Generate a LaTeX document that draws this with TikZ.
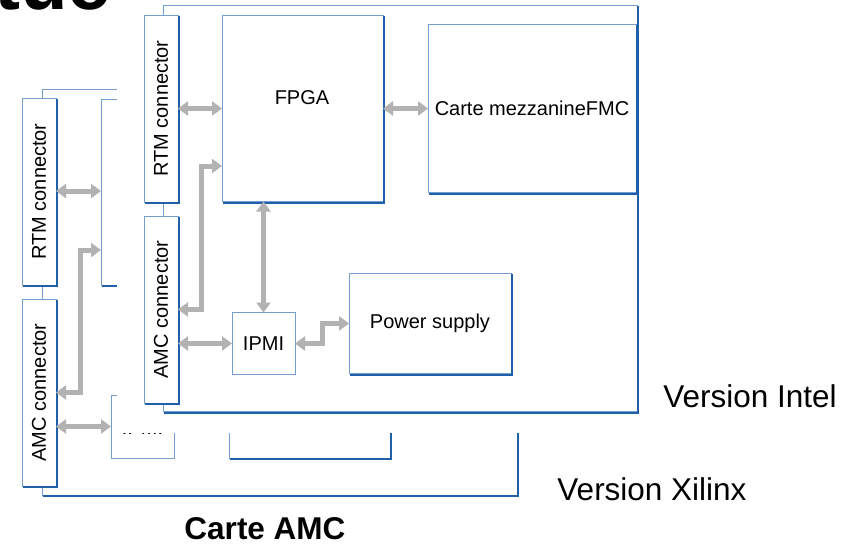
\documentclass[tikz,border=0pt]{standalone}
\usepackage{fontspec}
\setmainfont{Liberation Sans}
\usetikzlibrary{arrows.meta}
\definecolor{lightb}{RGB}{114,159,207}
\definecolor{darkb}{RGB}{32,96,170}
\definecolor{arrg}{RGB}{178,178,178}
\tikzset{
 bx/.style={draw=lightb, line width=1pt, fill=white, inner sep=0pt, outer sep=0pt, anchor=north west, font=\fontsize{20}{24}\selectfont},
 dk/.style={draw=darkb, line width=2pt, line cap=rect, line join=miter},
 lbl/.style={font=\fontsize{20}{24}\selectfont, inner sep=0pt},
 big/.style={font=\fontsize{31.5}{36}\selectfont, inner sep=0pt},
 conn/.style={draw=arrg, line width=5pt, line join=miter, {Triangle[length=10pt,width=14pt]}-{Triangle[length=10pt,width=14pt]}},
}
\newcommand\shedge[1]{\draw[dk] ([xshift=1pt,yshift=-1.5pt]#1.north east) -- ([xshift=1pt,yshift=-1pt]#1.south east) -- ([xshift=1.5pt,yshift=-1pt]#1.south west);}
\begin{document}
\begin{tikzpicture}[x=1pt,y=1pt]
\useasboundingbox (0,0) rectangle (844,-547);
% title fragment
\begin{scope}
\clip (0,0) rectangle (117,-12);
\node[anchor=base west, inner sep=0pt, font=\fontsize{78}{80}\selectfont\bfseries] (ttl) at (-6,-9.5) {tue};
\end{scope}
% ---------- back layer (Xilinx) ----------
\node[bx, minimum width=475pt, minimum height=406pt, fill=none] (boardB) at (42,-89) {};
\shedge{boardB}
\node[bx, minimum width=34pt, minimum height=187pt] (rtmB) at (22,-98) {};
\shedge{rtmB}
\node[lbl, rotate=90] (rtmBt) at (rtmB) {RTM connector};
\node[bx, minimum width=34pt, minimum height=187pt] (amcB) at (22,-299) {};
\shedge{amcB}
\node[lbl, rotate=90] (amcBt) at (amcB) {AMC connector};
\node[bx, minimum width=161pt, minimum height=186pt] (fpgaB) at (101,-99) {};
\shedge{fpgaB}
\node[bx, minimum width=63pt, minimum height=63pt] (ipmiB) at (111,-395) {};
\node[lbl] (ipmiBt) at (142.5,-428) {IPMI};
\node[bx, minimum width=161pt, minimum height=101pt] (psB) at (229,-357) {};
\shedge{psB}
\draw[conn] (rtmB.east |- 0,-191) -- (fpgaB.west |- 0,-191);
\draw[conn] (amcB.east) -- (80,-392.5) -- (80,-250) -- (fpgaB.west |- 0,-250);
\draw[conn] (amcB.east |- ipmiB.west) -- (ipmiB.west);
% ---------- cover ----------
\fill[white] (117,0) rectangle (844,-433);
% ---------- front layer (Intel) ----------
\node[bx, minimum width=474pt, minimum height=406pt, fill=none] (boardF) at (163,-5.5) {};
\shedge{boardF}
\node[bx, minimum width=34pt, minimum height=187pt] (rtmF) at (144,-15) {};
\shedge{rtmF}
\node[lbl, rotate=90] (rtmFt) at (rtmF) {RTM connector};
\node[bx, minimum width=34pt, minimum height=187pt] (amcF) at (144,-216) {};
\shedge{amcF}
\node[lbl, rotate=90] (amcFt) at (amcF) {AMC connector};
\node[bx, minimum width=161pt, minimum height=186pt] (fpga) at (222,-15.5) {};
\shedge{fpga}
\node[lbl] (fpgat) at (302,-98) {FPGA};
\node[bx, minimum width=208pt, minimum height=168pt] (mezz) at (428,-24.5) {Carte mezzanineFMC};
\shedge{mezz}
\node[bx, minimum width=63pt, minimum height=62pt] (ipmi) at (232,-312.5) {IPMI};
\node[bx, minimum width=162pt, minimum height=100pt] (ps) at (349,-273.5) {Power supply};
\shedge{ps}
\draw[conn] (rtmF.east |- fpga.west) -- (fpga.west);
\draw[conn] (fpga.east) -- (mezz.west |- fpga.east);
\draw[conn] (amcF.east) -- (201,-309.5) -- (201,-166) -- (fpga.west |- 0,-166);
\draw[conn] (fpga.south -| ipmi.north) -- (ipmi.north);
\draw[conn] (amcF.east |- ipmi.west) -- (ipmi.west);
\draw[conn] (ipmi.east) -- (322,-343.5) -- (322,-323.5) -- (ps.west);
% ---------- labels ----------
\node[big] (vintel) at (750,-396) {Version Intel};
\node[big] (vxil) at (652,-489) {Version Xilinx};
\node[big, font=\fontsize{31.5}{36}\selectfont\bfseries] (carte) at (265,-529) {Carte AMC};
\end{tikzpicture}
\end{document}
